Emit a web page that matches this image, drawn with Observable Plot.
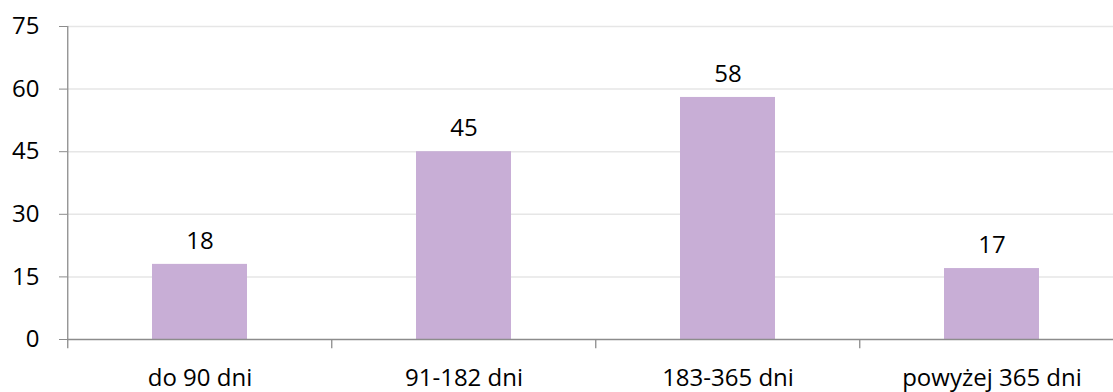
<!DOCTYPE html>
<html>
<head>
<meta charset="utf-8">
<script src="https://cdn.jsdelivr.net/npm/d3@7"></script>
<script src="https://cdn.jsdelivr.net/npm/@observablehq/plot@0.6"></script>
<style>
  html, body { margin: 0; padding: 0; background: #fff; }
  svg { display: block; }
</style>
</head>
<body>
<div id="chart"></div>
<script>
const categories = ["do 90 dni", "91-182 dni", "183-365 dni", "powyżej 365 dni"];
const values = [18, 45, 58, 17];
const yTicks = [0, 15, 30, 45, 60, 75];

const data = categories.map((c, i) => ({category: c, value: values[i]}));

const W = 1113, H = 392;
const left = 66.7, right = 1124.7;
const step = (right - left) / categories.length;
const font = "'Open Sans', sans-serif";
const axisColor = "#8c8c8c";

const chart = Plot.plot({
  width: W,
  height: H,
  marginLeft: 67,
  marginRight: 0,
  marginTop: 26,
  marginBottom: 53,
  style: {fontFamily: font, fontSize: "24px", color: "#000", background: "#fff"},
  x: {domain: categories, range: [left, right], paddingInner: 0.64, paddingOuter: 0.32, label: null},
  y: {domain: [0, 75], label: null},
  marks: [
    Plot.gridY(yTicks.filter(d => d > 0), {stroke: "#e6e6e6", strokeOpacity: 1, strokeWidth: 1.5}),
    Plot.barY(data, {x: "category", y: "value", fill: "#c8aed6"}),
    Plot.ruleY([0], {stroke: axisColor, strokeWidth: 1.3}),
    Plot.ruleX(categories, {x: d => d, dx: -step / 2, y1: -2.2, y2: (d, i) => i === 0 ? 75 : 0, stroke: axisColor, strokeWidth: 1.3}),
    Plot.axisY(yTicks, {tickSize: 8, tickPadding: 20, stroke: axisColor, fontSize: 24, fill: "#000"}),
    Plot.axisX({tickSize: 0, tickPadding: 29, fontSize: 24, fill: "#000"}),
    Plot.text(data, {x: "category", y: "value", text: d => String(d.value), dy: -23, fontSize: 24, fill: "#000"})
  ]
});
document.getElementById("chart").appendChild(chart);
</script>
</body>
</html>
